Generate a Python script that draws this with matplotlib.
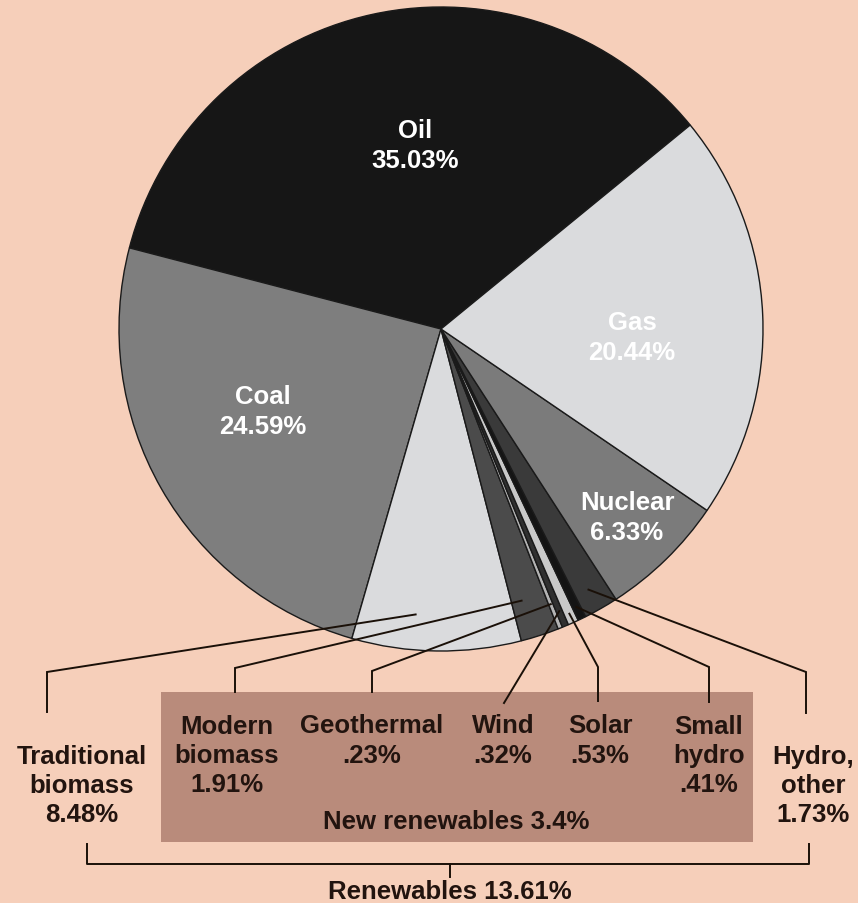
import numpy as np
import matplotlib
matplotlib.use("Agg")
import matplotlib.pyplot as plt
from matplotlib.patches import Rectangle

# ---- data (counterclockwise order starting at Oil) ----
categories = ["Oil", "Coal", "Traditional biomass", "Modern biomass", "Geothermal",
              "Wind", "Solar", "Small hydro", "Hydro, other", "Nuclear", "Gas"]
shares = [35.03, 24.59, 8.48, 1.91, 0.23, 0.32, 0.53, 0.41, 1.73, 6.33, 20.44]
inner_labels = {"Oil": "Oil\n35.03%", "Gas": "Gas\n20.44%",
                "Coal": "Coal\n24.59%", "Nuclear": "Nuclear\n6.33%"}
outer_labels = {"Traditional biomass": "Traditional\nbiomass\n8.48%",
                "Modern biomass": "Modern\nbiomass\n1.91%",
                "Geothermal": "Geothermal\n.23%",
                "Wind": "Wind\n.32%",
                "Solar": "Solar\n.53%",
                "Small hydro": "Small\nhydro\n.41%",
                "Hydro, other": "Hydro,\nother\n1.73%"}
new_renewables_label = "New renewables 3.4%"
renewables_label = "Renewables 13.61%"

colors = ["#161616", "#7e7e7e", "#dadbdd", "#4b4b4b", "#b4b4b4",
          "#303030", "#c9c9c9", "#141414", "#3a3a3a", "#7b7b7b", "#dadbdd"]

BG = "#f6cfba"
BOX = "#b98b7b"
DARK = "#22140f"
FONT = ["Liberation Sans", "DejaVu Sans"]
FS = 18.5
LS = 1.28

W, H = 858, 904
CX, CY, R = 441, 330, 322

def px(x, y):
    return ((x - CX) / R, (CY - y) / R)

fig = plt.figure(figsize=(W / 100, H / 100), dpi=100, facecolor=BG)
ax = fig.add_axes([0, 0, 1, 1])
ax.set_facecolor(BG)

wedges, _ = ax.pie(shares, colors=colors, startangle=39.3, counterclock=True,
                   wedgeprops=dict(edgecolor="#1a1a1a", linewidth=1.0))
ax.set_aspect("auto")
x0, y0 = px(0, H)
x1, y1 = px(W, 0)
ax.set_xlim(x0, x1)
ax.set_ylim(y0, y1)
ax.axis("off")

# ---- inner labels ----
inner_pos = {"Oil": (415, 146), "Gas": (632, 338), "Coal": (263, 412), "Nuclear": (627, 518)}
for name, (x, y) in inner_pos.items():
    ax.text(*px(x, y), inner_labels[name], color="white", ha="center", va="center",
            fontsize=FS, fontweight="bold", family=FONT, linespacing=LS)

# ---- renewables box ----
bx0, by0 = px(161, 843)
bx1, by1 = px(753, 693)
ax.add_patch(Rectangle((bx0, by0), bx1 - bx0, by1 - by0, facecolor=BOX,
                       edgecolor="none", zorder=1))

# ---- leader lines: (name) -> (fraction along wedge, radius, path points in px) ----
leaders = {
    "Traditional biomass": (0.36, 0.89, [(47, 673), (47, 713)]),
    "Modern biomass": (0.3, 0.88, [(235, 669), (235, 693)]),
    "Geothermal": (0.5, 0.92, [(372, 672), (372, 693)]),
    "Wind": (0.5, 0.95, [(504, 704)]),
    "Solar": (0.5, 0.97, [(598, 668), (598, 702)]),
    "Small hydro": (0.5, 0.96, [(709, 668), (709, 703)]),
    "Hydro, other": (0.45, 0.93, [(806, 673), (806, 714)]),
}
for w, name in zip(wedges, categories):
    if name not in leaders:
        continue
    f, rr, pts = leaders[name]
    ang = np.deg2rad(w.theta1 + f * (w.theta2 - w.theta1))
    xs = [rr * np.cos(ang)] + [px(*p)[0] for p in pts]
    ys = [rr * np.sin(ang)] + [px(*p)[1] for p in pts]
    ax.plot(xs, ys, color="#1a1008", lw=1.4, zorder=5, solid_joinstyle="miter")

# ---- outer labels ----
outer_pos = {"Traditional biomass": (82, 786), "Modern biomass": (227, 756),
             "Geothermal": (372, 741), "Wind": (503, 741), "Solar": (600, 741),
             "Small hydro": (709, 756), "Hydro, other": (813, 786)}
for name, (x, y) in outer_pos.items():
    ax.text(*px(x, y), outer_labels[name], color=DARK, ha="center", va="center",
            fontsize=FS, fontweight="bold", family=FONT, linespacing=LS, zorder=6)

ax.text(*px(456, 822), new_renewables_label, color=DARK, ha="center", va="center",
        fontsize=FS, fontweight="bold", family=FONT, zorder=6)

# ---- bracket ----
bl = [px(87, 845), px(87, 865), px(809, 865), px(809, 845)]
ax.plot([p[0] for p in bl], [p[1] for p in bl], color="#1a1008", lw=1.4)
c = [px(450, 865), px(450, 878)]
ax.plot([p[0] for p in c], [p[1] for p in c], color="#1a1008", lw=1.4)
ax.text(*px(450, 892), renewables_label, color=DARK, ha="center", va="center",
        fontsize=FS, fontweight="bold", family=FONT)

fig.savefig("out.png", dpi=100, facecolor=BG)
